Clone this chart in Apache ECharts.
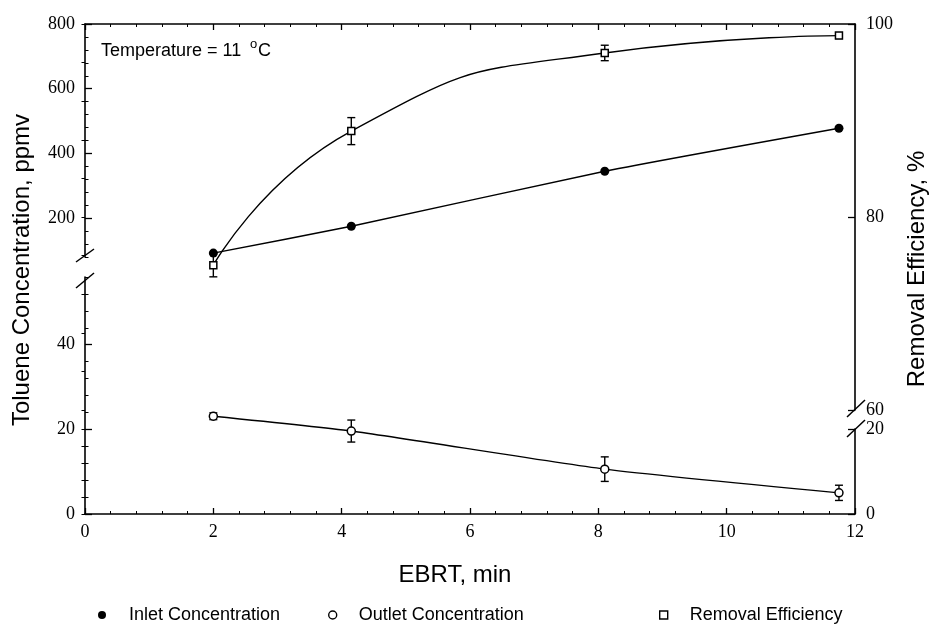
<!DOCTYPE html>
<html>
<head>
<meta charset="utf-8">
<title>Toluene removal vs EBRT</title>
<script src="https://cdn.jsdelivr.net/npm/echarts@6/dist/echarts.min.js"></script>
<style>
  html, body { margin: 0; padding: 0; background: #fff; }
  #chart { width: 931px; height: 633px; }
</style>
</head>
<body>
<div id="chart"></div>
<script>
// Empty bed residence time, min
const ebrt = [2.0, 4.15, 8.1, 11.75];
// Inlet toluene concentration, ppmv (upper left segment)
const inletPpmv = [92, 175, 345, 478];
// Outlet toluene concentration, ppmv (lower left segment) and its error
const outletPpmv = [23.1, 19.6, 10.6, 5.0];
const outletErr = [0.8, 2.6, 2.9, 1.8];
// Removal efficiency, % (upper right segment) and its error
const removalPct = [75.0, 88.9, 97.0, 98.8];
const removalErr = [1.2, 1.4, 0.8, 0.3];

// Tick labels
const xTicks = [0, 2, 4, 6, 8, 10, 12];
const leftUpperTicks = [200, 400, 600, 800];
const leftLowerTicks = [0, 20, 40];
const rightUpperTicks = [60, 80, 100];
const rightLowerTicks = [0, 20];

function steps(from, to, step) {
  const out = [];
  for (let v = from; v <= to + 1e-9; v += step) out.push(+v.toFixed(6));
  return out;
}

const BLACK = '#000';
const SERIF = 'Liberation Serif';
const SANS = 'Liberation Sans';
const AXIS_W = 1.6;

const L = 85, R = 76;
const grids = [
  { left: L, right: R, top: 24, height: 233 },   // inlet (left, upper)
  { left: L, right: R, top: 277, height: 237 },  // outlet (left, lower)
  { left: L, right: R, top: 24, height: 386 },   // removal (right, upper)
  { left: L, right: R, top: 429, height: 85 }    // right, lower scale
];

const labelStyle = { fontFamily: SERIF, fontSize: 18, color: BLACK };

function xAxis(gridIndex, opts) {
  return Object.assign({
    type: 'value', gridIndex, min: 0, max: 12, interval: 2,
    axisLine: { show: true, onZero: false, lineStyle: { color: BLACK, width: AXIS_W } },
    axisTick: { show: true, inside: true, length: 6, lineStyle: { color: BLACK, width: 1.3 } },
    minorTick: { show: true, splitNumber: 5, length: 3, lineStyle: { color: BLACK, width: 1 } },
    axisLabel: { show: false },
    splitLine: { show: false },
    minorSplitLine: { show: false }
  }, opts);
}

function yMajor(gridIndex, position, min, max, ticks) {
  return {
    type: 'value', gridIndex, position, min, max,
    axisLine: { show: true, onZero: false, lineStyle: { color: BLACK, width: AXIS_W } },
    axisTick: { show: true, inside: true, length: 7, customValues: ticks, lineStyle: { color: BLACK, width: 1.3 } },
    axisLabel: Object.assign({ show: true, customValues: ticks, margin: position === 'left' ? 10 : 11 }, labelStyle),
    splitLine: { show: false }
  };
}

function yMinor(gridIndex, position, min, max, ticks) {
  return {
    type: 'value', gridIndex, position, min, max,
    axisLine: { show: false },
    axisTick: { show: true, inside: true, length: 3.5, customValues: ticks, lineStyle: { color: BLACK, width: 1 } },
    axisLabel: { show: false },
    splitLine: { show: false }
  };
}

function errorBarSeries(xIdx, yIdx, values, errs) {
  return {
    type: 'custom',
    xAxisIndex: xIdx, yAxisIndex: yIdx, z: 1,
    data: ebrt.map((x, i) => [x, values[i] - errs[i], values[i] + errs[i]]),
    renderItem(params, api) {
      const lo = api.coord([api.value(0), api.value(1)]);
      const hi = api.coord([api.value(0), api.value(2)]);
      const cap = 4;
      const st = { stroke: BLACK, lineWidth: 1.4 };
      return {
        type: 'group',
        children: [
          { type: 'line', shape: { x1: lo[0], y1: lo[1], x2: hi[0], y2: hi[1] }, style: st },
          { type: 'line', shape: { x1: lo[0] - cap, y1: lo[1], x2: lo[0] + cap, y2: lo[1] }, style: st },
          { type: 'line', shape: { x1: hi[0] - cap, y1: hi[1], x2: hi[0] + cap, y2: hi[1] }, style: st }
        ]
      };
    }
  };
}

function legend(name, left, icon, itemStyle, pad) {
  return {
    left, top: 601, orient: 'horizontal', selectedMode: false,
    itemWidth: 8, itemHeight: 8,
    data: [{ name, icon, itemStyle }],
    textStyle: { fontFamily: SANS, fontSize: 18, color: BLACK, padding: [0, 0, 0, pad] }
  };
}

const openStyle = { color: '#fff', borderColor: BLACK, borderWidth: 1.5 };

const option = {
  animation: false,
  backgroundColor: '#fff',
  grid: grids,
  xAxis: [
    xAxis(0, { show: false }),
    xAxis(1, { position: 'bottom', axisLabel: Object.assign({ show: true, margin: 9, customValues: xTicks }, labelStyle) }),
    xAxis(2, { position: 'top' }),
    xAxis(3, { show: false })
  ],
  yAxis: [
    yMajor(0, 'left', 80, 800, leftUpperTicks),
    yMinor(0, 'left', 80, 800, steps(80, 800, 40)),
    yMajor(1, 'left', 0, 56, leftLowerTicks),
    yMinor(1, 'left', 0, 56, steps(0, 56, 4)),
    yMajor(2, 'right', 60, 100, rightUpperTicks),
    yMinor(2, 'right', 60, 100, steps(60, 100, 4)),
    yMajor(3, 'right', 0, 20, rightLowerTicks),
    yMinor(3, 'right', 0, 20, steps(0, 20, 4))
  ],
  legend: [
    legend('Inlet Concentration', 93, 'circle', { color: BLACK, borderWidth: 0 }, 18),
    legend('Outlet Concentration', 323, 'circle', { color: '#fff', borderColor: BLACK, borderWidth: 1.4 }, 17),
    legend('Removal Efficiency', 654, 'rect', { color: '#fff', borderColor: BLACK, borderWidth: 1.4 }, 17)
  ],
  series: [
    {
      name: 'Inlet Concentration', type: 'line', xAxisIndex: 0, yAxisIndex: 0, z: 3,
      data: ebrt.map((x, i) => [x, inletPpmv[i]]),
      smooth: 0.2, symbol: 'circle', symbolSize: 9,
      itemStyle: { color: BLACK },
      lineStyle: { color: BLACK, width: 1.4 }
    },
    {
      name: 'Outlet Concentration', type: 'line', xAxisIndex: 1, yAxisIndex: 2, z: 3,
      data: ebrt.map((x, i) => [x, outletPpmv[i]]),
      smooth: 0.2, symbol: 'circle', symbolSize: 8,
      itemStyle: openStyle,
      lineStyle: { color: BLACK, width: 1.4 }
    },
    {
      name: 'Removal Efficiency', type: 'line', xAxisIndex: 2, yAxisIndex: 4, z: 3,
      data: ebrt.map((x, i) => [x, removalPct[i]]),
      smooth: 0.55, symbol: 'rect', symbolSize: 7,
      itemStyle: openStyle,
      lineStyle: { color: BLACK, width: 1.4 }
    },
    errorBarSeries(1, 2, outletPpmv, outletErr),
    errorBarSeries(2, 4, removalPct, removalErr)
  ],
  graphic: [
    // axis break marks
    { type: 'line', shape: { x1: 76, y1: 262, x2: 94, y2: 249 }, style: { stroke: BLACK, lineWidth: 1.5 } },
    { type: 'line', shape: { x1: 76, y1: 288, x2: 94, y2: 273 }, style: { stroke: BLACK, lineWidth: 1.5 } },
    { type: 'line', shape: { x1: 847, y1: 417, x2: 865, y2: 400 }, style: { stroke: BLACK, lineWidth: 1.5 } },
    { type: 'line', shape: { x1: 847, y1: 437, x2: 865, y2: 420 }, style: { stroke: BLACK, lineWidth: 1.5 } },
    // axis titles
    { type: 'text', x: 22, y: 270, rotation: Math.PI / 2,
      style: { text: 'Toluene Concentration, ppmv', fontFamily: SANS, fontSize: 24, fill: BLACK, align: 'center', verticalAlign: 'middle' } },
    { type: 'text', x: 917, y: 269, rotation: Math.PI / 2,
      style: { text: 'Removal Efficiency, %', fontFamily: SANS, fontSize: 24, fill: BLACK, align: 'center', verticalAlign: 'middle' } },
    { type: 'text', x: 455, y: 575,
      style: { text: 'EBRT, min', fontFamily: SANS, fontSize: 24, fill: BLACK, align: 'center', verticalAlign: 'middle' } },
    // temperature note
    { type: 'text', x: 101, y: 51,
      style: { text: 'Temperature = 11', fontFamily: SANS, fontSize: 18, fill: BLACK, align: 'left', verticalAlign: 'middle' } },
    { type: 'text', x: 250, y: 44,
      style: { text: 'o', fontFamily: SANS, fontSize: 13, fill: BLACK, align: 'left', verticalAlign: 'middle' } },
    { type: 'text', x: 258, y: 51,
      style: { text: 'C', fontFamily: SANS, fontSize: 18, fill: BLACK, align: 'left', verticalAlign: 'middle' } }
  ]
};

const chart = echarts.init(document.getElementById('chart'), null, { renderer: 'canvas' });
chart.setOption(option);
</script>
</body>
</html>
